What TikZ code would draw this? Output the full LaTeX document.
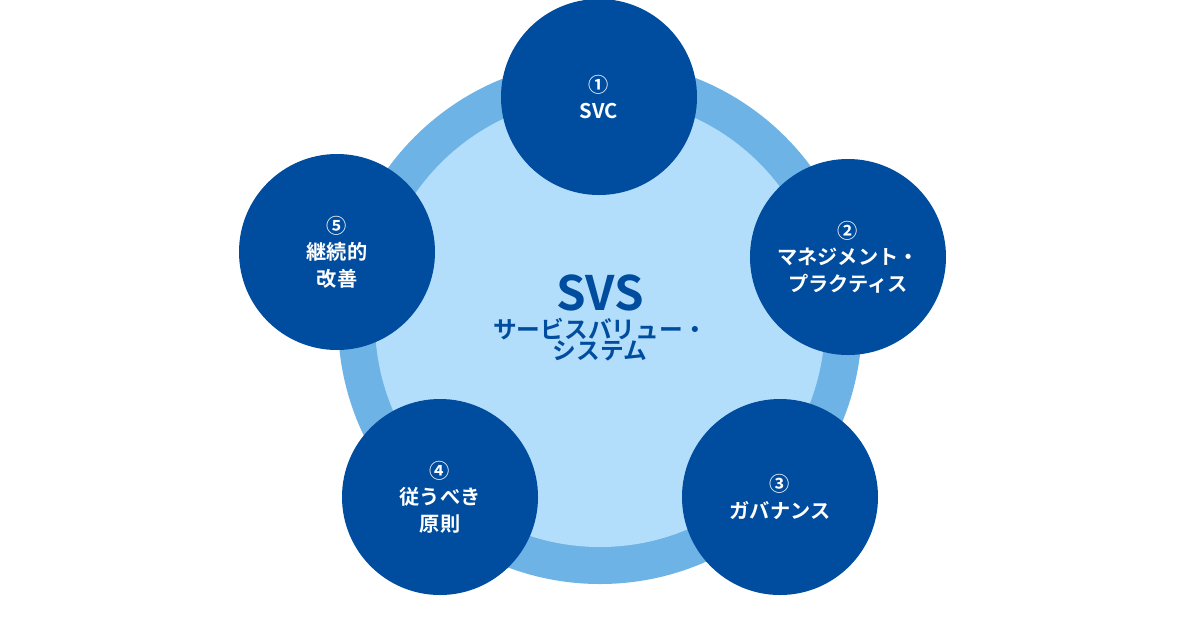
\documentclass[tikz,border=0pt]{standalone}
\usepackage{fontspec}
\setmainfont{Noto Sans CJK JP}[BoldFont={Noto Sans CJK JP Bold}]
\definecolor{svsdark}{HTML}{004C9E}
\definecolor{svsring}{HTML}{6DB3E5}
\definecolor{svslight}{HTML}{B3DEFB}
\tikzset{
  part/.style={circle, fill=svsdark, minimum size=196*0.02cm, inner sep=0pt,
    text=white, align=center, font=\fontsize{11.5}{15}\selectfont\bfseries}
}
\begin{document}
\begin{tikzpicture}[x=0.02cm, y=-0.02cm]
				\useasboundingbox (0,0) rectangle (1200,630);
				\fill[svsring] (600,322) circle (262);
				\fill[svslight] (600,322) circle (225);
				\node[text=svsdark, align=center] (svs) at (600,318)
					{{\fontsize{27}{30}\selectfont\bfseries SVS}\\[4pt]
					 {\fontsize{13.5}{19}\selectfont\bfseries サービスバリュー・}\\
					 {\fontsize{13.5}{19}\selectfont\bfseries システム}};
				\node[part] (svc) at (599,97) {①\\SVC};
				\node[part] (mp) at (848,257) {②\\マネジメント・\\プラクティス};
				\node[part] (gov) at (780,497) {③\\ガバナンス};
				\node[part] (pr) at (440,497) {④\\従うべき\\原則};
				\node[part] (ci) at (337,252) {⑤\\継続的\\改善};
			\end{tikzpicture}
\end{document}
